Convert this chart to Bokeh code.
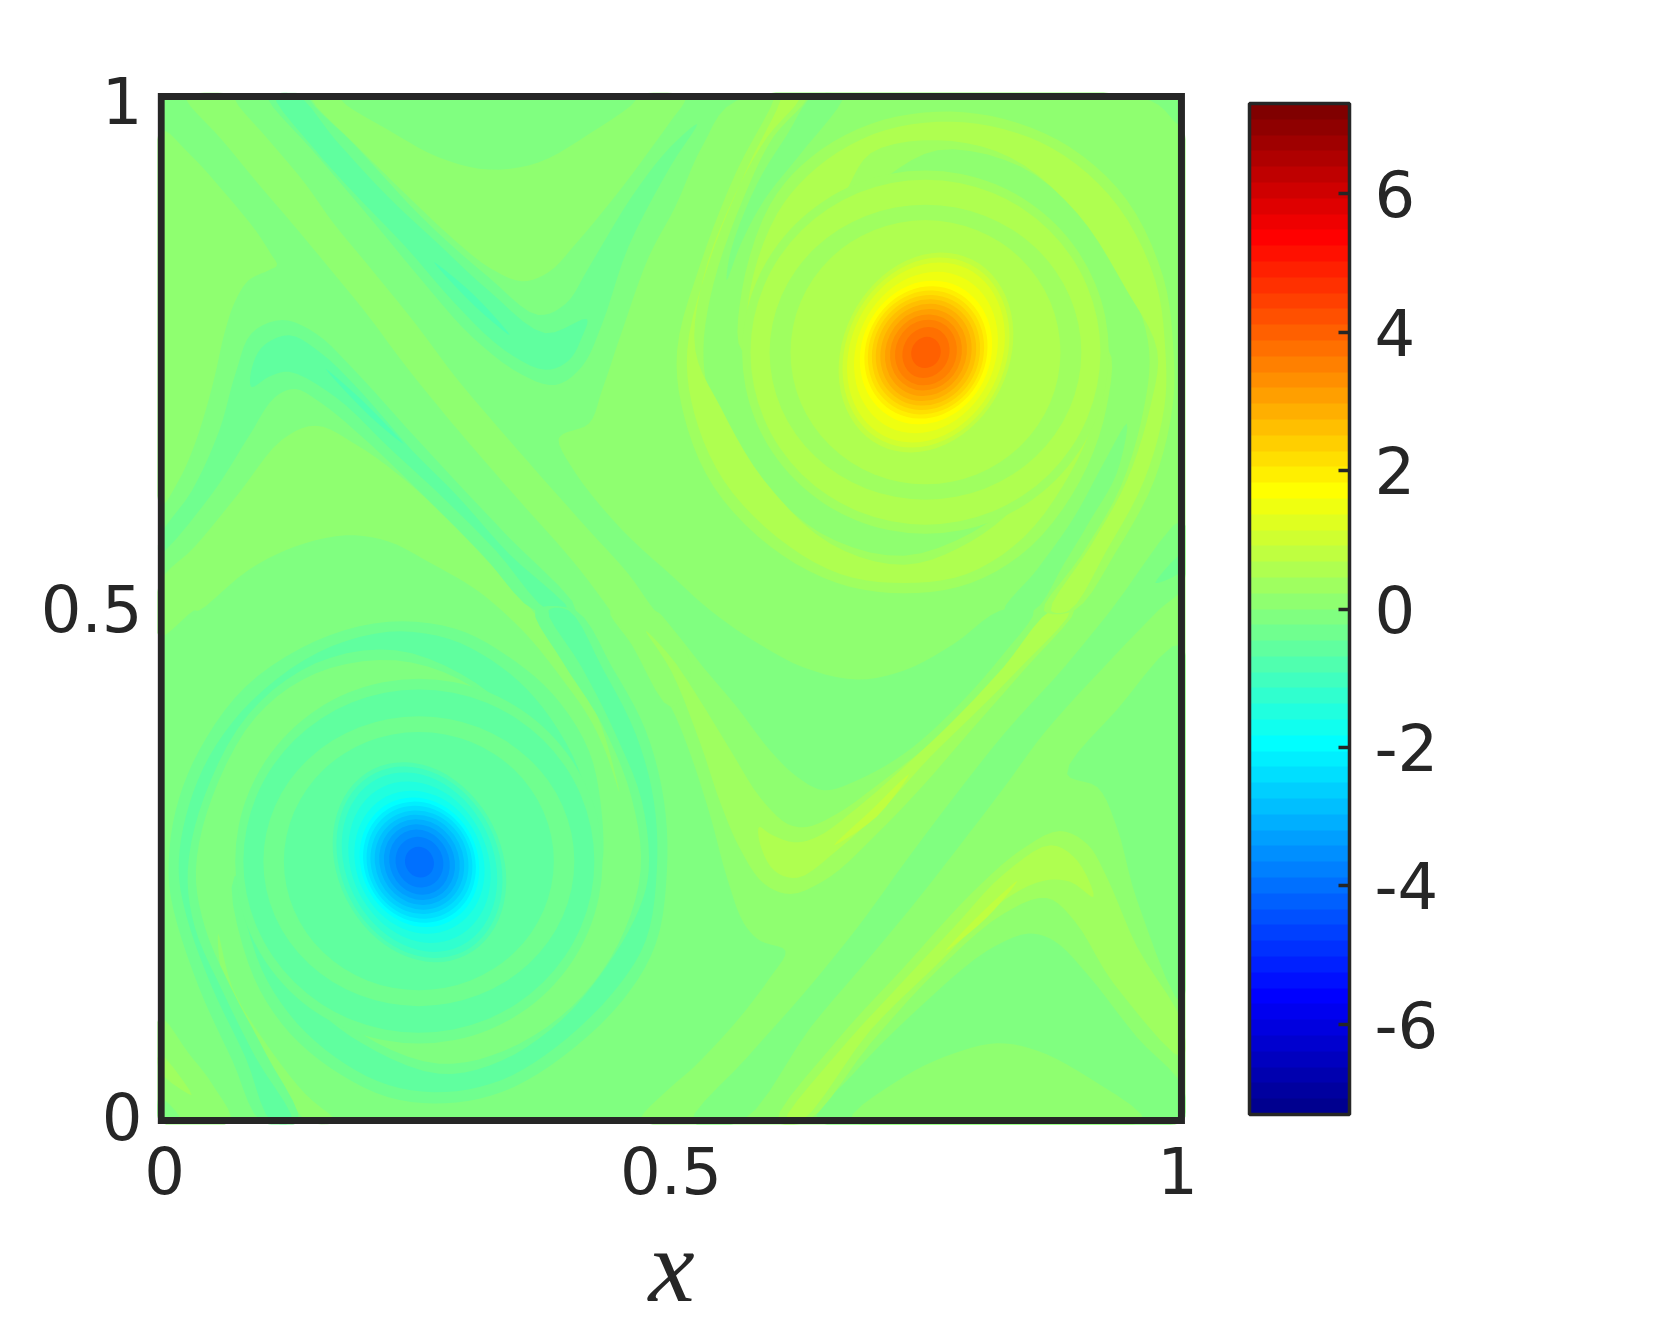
from bokeh.plotting import figure
from bokeh.models import (ColumnDataSource, LinearColorMapper, ColorBar, FixedTicker, Label, Range1d)
from bokeh.transform import transform
from bokeh.embed import file_html
from bokeh.resources import INLINE

# ---- colour scale -----------------------------------------------------------
Z_LOW, Z_HIGH = -7.3, 7.3
COLORBAR_TICKS = [-6, -4, -2, 0, 2, 4, 6]
TICK_LABELS = {0: "0", 0.5: "0.5", 1: "1"}
JET_CHANNEL = [j / 16 for j in range(1, 17)] + [1.0] * 15 + [j / 16 for j in range(16, 0, -1)]

def jet_row(i):
    def ch(k):
        k -= 1
        return JET_CHANNEL[k] if 0 <= k < len(JET_CHANNEL) else 0.0
    r, g, b = ch(i - 24), ch(i - 8), ch(i + 8)
    return "#%02x%02x%02x" % (round(r * 255), round(g * 255), round(b * 255))

JET64 = [jet_row(i) for i in range(1, 65)]

# ---- contour levels (field value of each filled band) --
Z80, Z90, ZA0, ZB0, ZC0 = -0.114, 0.114, 0.342, 0.570, 0.799
Z70, Z60, Z50 = -0.342, -0.570, -0.799

# ---- contour outlines, thousandths of the axes (x, y) ---
domain = [(-5, -5), (1005, -5), (1005, 1005), (-5, 1005)]
vortex_hi = [(565,1000),(973,1000),(1000,977),(1005,977),(1005,-5),(471,-5),(471,0),(500,29),(523,49),(565,94),(598,137),(613,163),(588,173),(572,190),(555,236),(539,295),(519,357),(500,403),(461,465),(440,498),(484,498),(500,482),(532,442),(565,403),(598,360),(625,334),(651,321),(684,331),(730,357),(779,400),(828,455),(858,498),(825,498),(779,465),(730,439),(684,430),(631,442),(582,468),(539,498),(500,533),(452,577),(406,633),(389,666),(394,672),(419,682),(432,715),(452,774),(478,846),(504,895),(532,957)]
band_hi = [(22,1005),(22,1000),(57,961),(90,921),(126,879),(162,836),(202,787),(234,744),(271,698),(304,659),(353,603),(402,548),(440,498),(461,465),(500,403),(520,440),(500,482),(484,498),(458,534),(419,577),(369,633),(320,689),(287,728),(248,780),(205,833),(167,879),(139,918),(103,961),(70,1000),(70,1005)]
crescent_top = [(146,1005),(146,1000),(188,957),(238,908),(287,862),(320,836),(353,822),(379,831),(406,859),(452,915),(500,980),(514,1000),(514,1005),(465,1005),(465,1000),(419,967),(369,939),(320,932),(271,944),(221,971),(175,1000),(175,1005)]
left_hi = [(-5,971),(24,948),(57,912),(90,872),(105,849),(111,838),(103,833),(83,823),(70,803),(60,774),(47,718),(30,662),(14,626),(-5,600)]
lower_hi = [(-5,525),(30,561),(73,613),(116,666),(149,680),(188,662),(238,626),(287,580),(327,538),(363,498),(389,465),(415,423),(435,373),(449,319),(435,360),(419,393),(396,426),(363,468),(333,498),(304,521),(264,544),(221,566),(179,572),(129,561),(83,538),(34,498),(29,498),(-5,472)]
arm_hi = [(53,180),(67,127),(100,72),(139,22),(169,-5),(142,-5),(109,39),(80,81),(57,137)]
corner_hi = [(-5,98),(24,62),(47,32),(65,-5),(-5,-5)]
corner_lo = [(-5,19),(17,-5),(-5,-5)]
corner_sliver = [(-5,62),(27,21),(-5,45)]
diag_lo = [(934,498),(888,442),(829,377),(779,314),(730,249),(684,186),(631,121),(575,58),(521,-5),(569,-5),(638,88),(694,154),(743,213),(786,268),(829,324),(868,377),(927,442),(981,498),(1005,521),(1005,587)]
corner_br = [(644,-5),(680,42),(746,108),(812,163),(853,180),(878,173),(911,140),(960,78),(1005,29),(1005,-5)]
wedge_r = [(1005,465),(940,400),(891,337),(921,324),(940,285),(960,213),(1005,111)]
crescent_bot = [(677,-5),(730,39),(779,62),(822,72),(861,65),(911,39),(967,-5)]
hook_a_lvl1 = [(475,478),(500,452),(529,409),(559,360),(588,314),(615,288),(634,285),(664,298),(710,331),(763,373),(812,419),(868,482),(883,498),(898,498),(848,439),(796,380),(750,327),(703,278),(657,236),(618,219),(592,229),(569,262),(549,308),(529,367),(500,439)]
hook_a_lvl2 = [(587,285),(598,278),(621,270),(644,275),(684,304),(730,344),(779,390),(828,442),(875,498),(894,498),(842,439),(796,393),(756,354),(710,304),(664,262),(625,235),(602,242),(588,268)]
hook_a_lvl3 = [(735,337),(697,301),(661,267),(703,295)]
hook_b_lvl1 = [(1005,91),(960,167),(930,236),(911,268),(884,281),(845,262),(796,219),(730,147),(664,75),(605,-5),(634,-5),(697,72),(763,144),(829,200),(871,215),(898,193),(937,131),(1005,58)]
hook_b_lvl2 = [(613,-5),(664,62),(730,134),(779,186),(829,239),(875,267),(901,252),(917,216),(894,231),(868,232),(829,213),(763,150),(697,85),(628,-5)]
hook_b_lvl3 = [(842,232),(809,203),(771,163),(812,196)]
hook_c_lvl1 = [(-5,570),(27,616),(54,675),(70,731),(86,771),(116,784),(149,771),(188,734),(238,679),(287,626),(336,574),(406,498),(366,498),(313,554),(254,613),(195,669),(155,702),(129,716),(109,708),(83,669),(47,613),(-5,554)]
hook_c_lvl2 = [(86,718),(85,731),(96,757),(123,769),(155,751),(195,712),(244,656),(287,613),(340,554),(399,498),(379,498),(327,557),(274,610),(221,659),(169,708),(123,733),(103,728)]
hook_c_lvl3 = [(159,736),(195,705),(236,662),(202,690)]
hook_d_lvl1 = [(144,1005),(144,1000),(188,956),(254,885),(320,826),(369,789),(396,800),(419,836),(461,905),(499,954),(526,977),(500,936),(458,856),(432,780),(412,738),(386,720),(353,730),(304,767),(254,823),(205,882),(146,951),(103,1000),(103,1005)]
hook_d_lvl2 = [(109,1005),(131,1005),(169,961),(221,905),(267,862),(320,813),(376,771),(417,785),(412,767),(399,744),(376,735),(336,754),(287,800),(238,856),(188,908),(149,951)]
hook_d_lvl3 = [(266,841),(304,810),(341,769),(307,797)]
streak_top = [(641,1005),(669,1005),(669,1000),(625,944),(592,902),(569,859),(555,823),(559,852),(585,918),(615,967)]
streak_bot = [(950,682),(940,633),(914,587),(888,544),(858,498),(829,498),(861,538),(898,590),(927,643)]
sliver_br = [(978,525),(1005,554),(1005,538)]

# spiral arms round the vortex near (0.25, 0.25)
spiral_a_lvl1 = [(96,-5),(67,55),(34,127),(9,203),(4,242),(11,301),(34,360),(80,423),(149,468),(221,487),(287,480),(336,455),(383,416),(419,360),(432,295),(432,252),(409,334),(356,370),(304,423),(228,449),(149,436),(90,393),(47,314),(31,242),(40,186),(67,124),(100,62),(132,-5)]
spiral_b_lvl1 = [(406,498),(442,442),(475,380),(493,311),(496,242),(485,170),(452,114),(392,58),(333,24),(277,13),(221,19),(162,49),(116,91),(83,150),(69,236),(97,236),(116,163),(144,132),(195,81),(271,52),(336,65),(402,108),(448,170),(470,242),(461,314),(432,386),(392,449),(366,498)]
spiral_a_lvl2 = [(106,-5),(80,58),(47,127),(22,196),(14,242),(21,295),(44,354),(86,409),(152,457),(221,477),(281,470),(333,442),(373,403),(409,341),(424,268),(392,337),(359,377),(307,427),(228,459),(149,446),(83,396),(39,314),(23,242),(30,186),(57,124),(90,58),(126,-5)]
spiral_b_lvl2 = [(399,498),(432,442),(465,377),(483,311),(486,242),(475,173),(442,121),(386,68),(333,36),(277,24),(221,31),(169,58),(123,101),(91,157),(77,236),(97,236),(111,167),(146,111),(195,72),(271,42),(333,55),(392,95),(438,150),(468,203),(478,242),(471,311),(445,377),(412,442),(379,498)]
# spiral arms round the vortex near (0.75, 0.75)
spiral_c_lvl1 = [(601,1005),(601,1000),(565,931),(529,839),(506,754),(513,689),(542,620),(598,561),(664,525),(730,515),(796,525),(855,561),(904,626),(930,698),(932,754),(907,754),(888,666),(857,631),(812,584),(730,552),(648,574),(582,636),(539,708),(532,754),(542,820),(572,905),(601,964),(633,1000),(633,1005)]
spiral_d_lvl1 = [(898,498),(940,557),(977,626),(995,698),(996,754),(986,826),(950,902),(894,954),(828,982),(763,989),(697,977),(638,944),(598,898),(570,813),(570,754),(598,754),(611,826),(648,874),(703,918),(763,951),(845,935),(911,879),(957,807),(972,754),(967,698),(944,620),(904,551),(868,498)]
spiral_c_lvl2 = [(608,1005),(608,1000),(574,931),(537,839),(516,754),(523,692),(552,626),(605,570),(667,534),(730,525),(792,534),(848,570),(894,633),(921,698),(924,754),(907,754),(893,679),(852,613),(796,566),(730,543),(657,564),(592,626),(549,698),(524,754),(532,826),(562,905),(595,964),(626,1000),(626,1005)]
spiral_d_lvl2 = [(893,498),(930,557),(967,626),(987,698),(988,754),(978,823),(942,895),(888,946),(828,972),(763,979),(700,967),(644,934),(605,889),(578,813),(578,754),(598,754),(608,820),(644,869),(671,908),(697,948),(763,961),(835,944),(901,889),(950,813),(980,754),(973,698),(950,626),(914,561),(875,498)]

CONTOURS = [
    (Z90, vortex_hi), (Z90, band_hi), (Z90, crescent_top), (Z90, left_hi), (Z90, lower_hi),
    (Z90, arm_hi), (Z90, corner_hi), (Z80, corner_lo), (ZA0, corner_sliver),
    (Z80, diag_lo), (Z80, corner_br), (Z80, wedge_r), (Z90, crescent_bot),
    (ZA0, hook_a_lvl1), (ZB0, hook_a_lvl2), (ZC0, hook_a_lvl3),
    (ZA0, hook_b_lvl1), (ZB0, hook_b_lvl2), (ZC0, hook_b_lvl3),
    (Z70, hook_c_lvl1), (Z60, hook_c_lvl2), (Z50, hook_c_lvl3),
    (Z70, hook_d_lvl1), (Z60, hook_d_lvl2), (Z50, hook_d_lvl3),
    (Z80, streak_top), (Z80, streak_bot), (Z70, sliver_br),
    (Z70, spiral_a_lvl1), (Z70, spiral_b_lvl1), (Z60, spiral_a_lvl2), (Z60, spiral_b_lvl2),
    (ZA0, spiral_c_lvl1), (ZA0, spiral_d_lvl1), (ZB0, spiral_c_lvl2), (ZB0, spiral_d_lvl2),
]

# ---- closed level ellipses round each vortex (value, x, y, width, height, tilt) ---
neg_z = [-0.342, -0.570, -0.342, -0.570, -0.799, -1.027, -1.255, -1.483, -1.711, -1.939, -2.167, -2.396, -2.624, -2.852, -3.080, -3.308, -3.536, -3.764, -3.992]
neg_w = [0.3626, 0.3465, 0.3070, 0.2665, 0.1620, 0.1548, 0.1449, 0.1338, 0.1242, 0.1147, 0.1085, 0.1021, 0.0950, 0.0866, 0.0778, 0.0687, 0.0583, 0.0464, 0.0280]
neg_h = [0.3593, 0.3379, 0.2854, 0.2543, 0.2048, 0.1960, 0.1838, 0.1647, 0.1448, 0.1306, 0.1218, 0.1134, 0.1037, 0.0951, 0.0861, 0.0762, 0.0656, 0.0507, 0.0308]
neg_x = [0.2511] * 4 + [0.2517] * 15
neg_y = [0.2513] * 4 + [0.2503] * 15
neg_a = [0.0] * 4 + [0.46] * 15

pos_z = [0.342, 0.570, 0.342, 0.570, 0.799, 1.027, 1.255, 1.483, 1.711, 1.939, 2.167, 2.396, 2.624, 2.852, 3.080, 3.308, 3.536, 3.764, 3.992]
pos_w = [0.3620, 0.3455, 0.3077, 0.2665, 0.1636, 0.1567, 0.1480, 0.1360, 0.1268, 0.1185, 0.1123, 0.1047, 0.0972, 0.0882, 0.0794, 0.0696, 0.0600, 0.0454, 0.0286]
pos_h = [0.3576, 0.3396, 0.2904, 0.2602, 0.2042, 0.1939, 0.1838, 0.1640, 0.1448, 0.1330, 0.1244, 0.1153, 0.1064, 0.0977, 0.0872, 0.0763, 0.0657, 0.0514, 0.0312]
pos_x = [0.7512] * 4 + [0.7517] * 15
pos_y = [0.7523] * 4 + [0.7520] * 15
pos_a = [0.0] * 4 + [-0.46] * 15


def curve(points, steps=5):
    """Draw a read contour as a smooth closed curve through its points
    (centripetal Catmull-Rom: a drawing style, the read points are kept)."""
    n = len(points)
    out = []
    for i in range(n):
        p0, p1, p2, p3 = points[i - 1], points[i], points[(i + 1) % n], points[(i + 2) % n]
        def dt(a, b):
            return max(((a[0] - b[0]) ** 2 + (a[1] - b[1]) ** 2) ** 0.25, 1e-6)
        t1 = dt(p0, p1)
        t2 = t1 + dt(p1, p2)
        t3 = t2 + dt(p2, p3)
        for s in range(steps):
            t = t1 + (t2 - t1) * s / steps
            pt = []
            for c in (0, 1):
                a1 = ((t1 - t) * p0[c] + t * p1[c]) / t1
                a2 = ((t2 - t) * p1[c] + (t - t1) * p2[c]) / (t2 - t1)
                a3 = ((t3 - t) * p2[c] + (t - t2) * p3[c]) / (t3 - t2)
                b1 = ((t2 - t) * a1 + t * a2) / t2
                b2 = ((t3 - t) * a2 + (t - t1) * a3) / (t3 - t1)
                pt.append(((t2 - t) * b1 + (t - t1) * b2) / (t2 - t1))
            out.append(pt)
    return out


# ---- figure -----------------------------------------------------------------
INK = "#262626"
mapper = LinearColorMapper(palette=JET64, low=Z_LOW, high=Z_HIGH)

p = figure(frame_width=1028, frame_height=1032, output_backend="svg", toolbar_location=None,
           x_range=Range1d(-0.0069, 1.0079), y_range=Range1d(-0.0079, 1.0079),
           min_border_left=157, min_border_top=92, min_border_right=100, min_border_bottom=190)
p.grid.visible = False
p.background_fill_color = "white"
p.outline_line_color = None

base_src = ColumnDataSource(dict(xs=[[a / 1000 for a, _ in domain]], ys=[[b / 1000 for _, b in domain]], z=[Z80]))
p.patches("xs", "ys", source=base_src, fill_color=transform("z", mapper), line_color=None)

smooth = [curve(pts) for _, pts in CONTOURS]
poly_src = ColumnDataSource(dict(
    xs=[[q[0] / 1000 for q in c] for c in smooth],
    ys=[[q[1] / 1000 for q in c] for c in smooth],
    z=[z for z, _ in CONTOURS]))
p.patches("xs", "ys", source=poly_src, fill_color=transform("z", mapper), line_color=None)

for zz, xx, yy, ww, hh, aa in ((neg_z, neg_x, neg_y, neg_w, neg_h, neg_a), (pos_z, pos_x, pos_y, pos_w, pos_h, pos_a)):
    src = ColumnDataSource(dict(z=zz, x=xx, y=yy, w=ww, h=hh, a=aa))
    p.ellipse("x", "y", width="w", height="h", angle="a", source=src,
              fill_color=transform("z", mapper), line_color=None)

# plot box
p.quad(left=[-0.0033], right=[1.0039], bottom=[-0.0039], top=[1.0039],
       fill_color=None, line_color=INK, line_width=7, line_join="miter")

for ax in (p.xaxis[0], p.yaxis[0]):
    ax.ticker = FixedTicker(ticks=list(TICK_LABELS))
    ax.major_label_overrides = dict(TICK_LABELS)
    ax.major_label_text_font = "DejaVu Sans"
    ax.major_label_text_font_size = "64px"
    ax.major_label_text_color = INK
    ax.major_tick_line_color = None
    ax.minor_tick_line_color = None
    ax.axis_line_color = None
p.xaxis[0].major_label_standoff = 16
p.yaxis[0].major_label_standoff = 9
p.yaxis[0].major_label_orientation = "horizontal"

p.xaxis[0].axis_label = "x"
p.xaxis[0].axis_label_text_font = "Liberation Serif"
p.xaxis[0].axis_label_text_font_style = "italic"
p.xaxis[0].axis_label_text_font_size = "104px"
p.xaxis[0].axis_label_text_color = INK
p.xaxis[0].axis_label_standoff = 11

p.add_layout(Label(x=-0.168, y=0.495, text="y", angle=90, angle_units="deg",
                   text_font="Liberation Serif", text_font_style="italic",
                   text_font_size="104px", text_color=INK, text_align="center",
                   text_baseline="alphabetic"))

bar = ColorBar(color_mapper=mapper, ticker=FixedTicker(ticks=COLORBAR_TICKS),
               major_label_overrides={t: str(t) for t in COLORBAR_TICKS},
               width=100, height=1011, padding=0, margin=0, location=(64, 10),
               bar_line_color=INK, bar_line_width=3.5, major_tick_line_color=INK,
               major_tick_line_width=3.5, major_tick_in=11, major_tick_out=0,
               minor_tick_line_color=None, label_standoff=25,
               major_label_text_font="DejaVu Sans", major_label_text_font_size="64px",
               major_label_text_color=INK, background_fill_color=None, border_line_color=None)
p.add_layout(bar, "right")

open("out.html", "w").write(file_html(p, INLINE))
